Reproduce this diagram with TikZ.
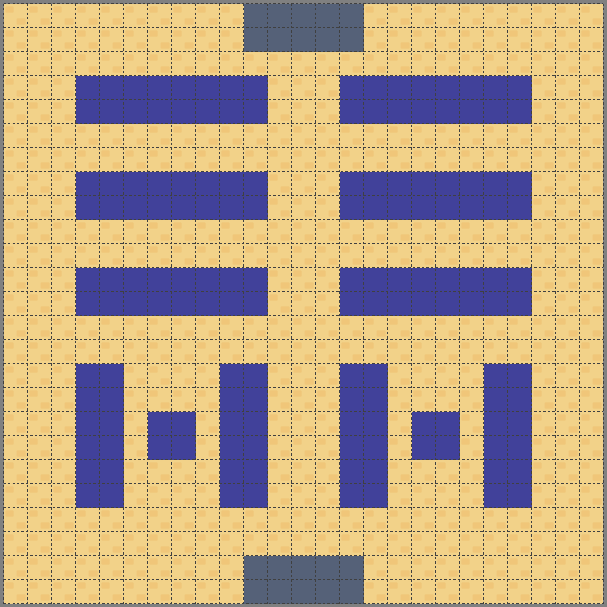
\documentclass[tikz,border=0pt]{standalone}
\usepackage{xcolor}
\usepackage{tikz}
\definecolor{sand}{HTML}{F2D289}
\definecolor{brick}{HTML}{F0C679}
\definecolor{wallblue}{HTML}{41419A}
\definecolor{gateslate}{HTML}{556178}
\definecolor{framegray}{HTML}{808080}
\tikzset{
  floor/.style={fill=sand, draw=none},
  brickbox/.style={fill=brick, draw=none, rounded corners=0.5pt},
  wall/.style={fill=wallblue, draw=none},
  gate/.style={fill=gateslate, draw=none},
  gridline/.style={draw=black!75, line width=0.5pt, dash pattern=on 1.6pt off 1.6pt},
}

\begin{document}
\begin{tikzpicture}[x=0.6cm, y=-0.6cm]
    % frame and floor
    \fill[framegray] (-0.146,-0.146) rectangle (25.146,25.146);
    \useasboundingbox (-0.146,-0.146) rectangle (25.146,25.146);
    \fill[floor] (0,0) rectangle (25,25);
    \foreach \i in {0,...,24}{
      \foreach \j in {0,...,24}{
        \fill[brickbox] (\i+0.08,\j+0.12) rectangle (\i+0.42,\j+0.38);
        \fill[brickbox] (\i+0.55,\j+0.62) rectangle (\i+0.92,\j+0.88);
      }
    }
    % gates
    \fill[gate] (10,0) rectangle (15,2);
    \fill[gate] (10,23) rectangle (15,25);
    % horizontal walls
    \foreach \r in {3,7,11}{
      \fill[wall] (3,\r) rectangle (11,\r+2);
      \fill[wall] (14,\r) rectangle (22,\r+2);
    }
    % lower pillars and blocks
    \foreach \c in {3,9,14,20}{
      \fill[wall] (\c,15) rectangle (\c+2,21);
    }
    \fill[wall] (6,17) rectangle (8,19);
    \fill[wall] (17,17) rectangle (19,19);
    % grid
    \foreach \k in {0,...,25}{
      \draw[gridline] (\k,0) -- (\k,25);
      \draw[gridline] (0,\k) -- (25,\k);
    }
  \end{tikzpicture}
\end{document}
